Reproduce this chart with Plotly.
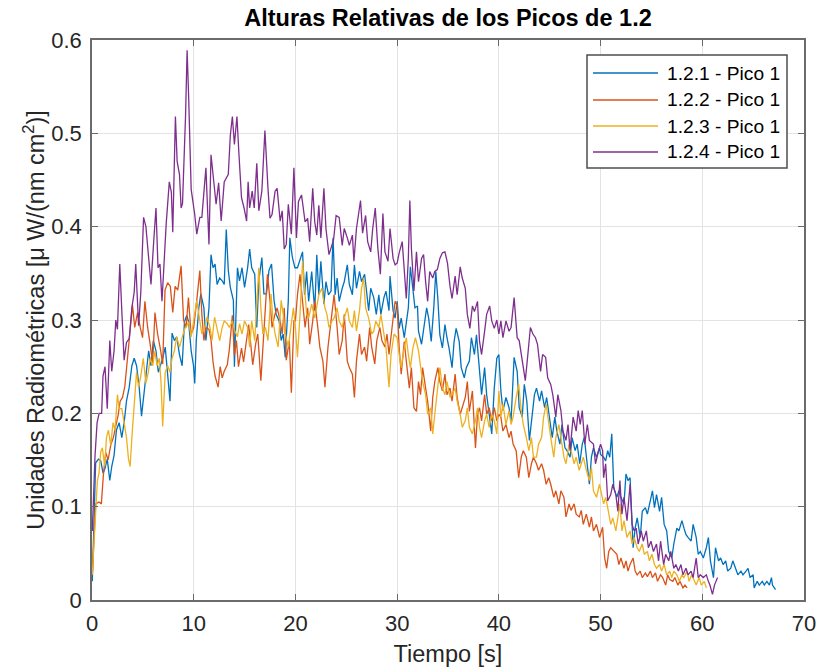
import plotly.graph_objects as go

# Serie 1.2.1 - Pico 1
t_121 = [0.03,0.16,0.36,0.63,0.86,1.09,1.28,1.5,1.75,1.94,2.17,2.4,2.67,2.93,3.16,3.39,3.66,3.92,4.15,4.38,
         4.64,4.87,5.1,5.3,5.57,5.8,6.03,6.29,6.52,6.72,6.95,7.2,7.44,7.67,7.87,8.1,8.33,8.6,8.86,9.09,
         9.32,9.5,9.75,9.98,
         10.1,10.25,10.5,10.7,11.0,11.2,11.5,11.7,11.9,12.1,12.3,12.55,12.8,13.0,13.2,13.4,13.6,13.9,14.0,14.3,
         14.5,14.75,15.0,15.3,15.5,15.7,16.0,16.2,16.4,16.7,16.9,17.15,17.4,17.65,17.9,18.1,18.4,18.6,18.8,19.0,
         19.3,19.45,19.7,19.95,
         20.2,20.45,20.7,20.9,21.1,21.3,21.6,21.9,22.1,22.3,22.5,22.8,23.0,23.25,23.5,23.7,23.9,24.1,24.3,24.6,
         24.8,25.1,25.3,25.6,25.8,26.0,26.3,26.5,26.8,26.96,27.2,27.4,27.7,27.95,28.2,28.4,28.7,28.9,29.2,29.3,
         29.6,29.8,
         30.0,30.2,30.4,30.7,30.9,31.1,31.3,31.55,31.75,32.0,32.1,32.4,32.6,32.9,33.1,33.35,33.6,33.8,34.0,34.2,
         34.45,34.7,34.9,35.1,35.4,35.6,35.8,36.1,36.3,36.6,36.8,37.1,37.3,37.6,37.8,38.1,38.3,38.6,38.8,39.05,
         39.3,39.55,39.8,
         40.0,40.2,40.4,40.7,41.0,41.2,41.5,41.8,42.0,42.3,42.5,42.75,43.0,43.3,43.5,43.7,44.0,44.2,44.5,44.7,
         45.0,45.25,45.5,45.7,46.0,46.2,46.5,46.7,47.0,47.2,47.5,47.7,47.95,48.2,48.4,48.7,48.9,49.1,49.3,49.6,
         49.9,
         50.0,50.3,50.5,50.7,50.9,51.1,51.3,51.6,51.8,52.0,52.3,52.5,52.7,52.9,53.2,53.4,53.6,53.9,54.1,54.4,
         54.6,54.9,55.1,55.3,55.5,55.8,56.0,56.25,56.5,56.7,57.0,57.2,57.5,57.7,58.0,58.2,58.4,58.6,58.9,59.1,
         59.4,59.6,59.8,60.1,60.4,60.6,60.8,61.1,61.3,61.6,61.8,62.05,62.3,62.5,62.8,63.0,63.3,63.5,63.8,64.0,
         64.3,64.5,64.7,65.0,65.1,65.4,65.6,65.9,66.1,66.35,66.6,66.8,66.9,67.2]
v_121 = [0.02,0.08,0.147,0.151,0.149,0.136,0.141,0.151,0.128,0.143,0.155,0.182,0.19,0.174,0.19,0.213,0.228,0.251,0.259,0.251,
         0.228,0.197,0.217,0.24,0.267,0.251,0.278,0.267,0.244,0.251,0.259,0.271,0.24,0.213,0.286,0.278,0.282,0.263,0.251,0.298,
         0.305,0.298,0.267,0.251,
         0.232,0.278,0.313,0.328,0.313,0.278,0.313,0.37,0.356,0.36,0.338,0.345,0.342,0.338,0.397,0.353,0.335,0.321,0.25,0.356,
         0.342,0.356,0.335,0.356,0.376,0.356,0.349,0.292,0.342,0.367,0.328,0.328,0.353,0.36,0.321,0.306,0.299,0.278,0.285,0.26,
         0.321,0.388,0.367,0.356,
         0.356,0.366,0.373,0.327,0.352,0.32,0.352,0.31,0.37,0.327,0.363,0.317,0.341,0.327,0.331,0.388,0.327,0.345,0.32,0.334,
         0.341,0.359,0.338,0.327,0.359,0.334,0.352,0.341,0.349,0.334,0.31,0.334,0.324,0.306,0.327,0.306,0.324,0.331,0.31,0.347,
         0.31,0.302,
         0.32,0.291,0.302,0.281,0.295,0.313,0.357,0.331,0.313,0.315,0.288,0.274,0.291,0.313,0.302,0.277,0.313,0.352,0.323,0.284,
         0.27,0.295,0.281,0.27,0.249,0.277,0.291,0.277,0.249,0.238,0.249,0.256,0.281,0.263,0.284,0.242,0.22,0.249,0.22,0.199,
         0.178,0.227,0.259,
         0.263,0.224,0.203,0.217,0.206,0.192,0.26,0.245,0.206,0.196,0.231,0.213,0.171,0.203,0.22,0.227,0.213,0.224,0.206,0.217,
         0.196,0.174,0.196,0.181,0.167,0.188,0.163,0.16,0.153,0.174,0.16,0.167,0.146,0.167,0.174,0.146,0.124,0.153,0.163,0.153,
         0.163,
         0.156,0.153,0.149,0.16,0.153,0.178,0.12,0.11,0.117,0.11,0.103,0.135,0.128,0.131,0.056,0.077,0.088,0.067,0.095,0.099,
         0.092,0.106,0.117,0.099,0.113,0.095,0.11,0.081,0.074,0.052,0.045,0.06,0.077,0.074,0.085,0.077,0.07,0.067,0.063,0.081,
         0.067,0.049,0.052,0.045,0.056,0.067,0.042,0.024,0.056,0.042,0.045,0.038,0.042,0.031,0.034,0.042,0.034,0.027,0.031,0.027,
         0.031,0.034,0.024,0.027,0.013,0.02,0.016,0.02,0.016,0.02,0.016,0.024,0.016,0.011]

# Serie 1.2.2 - Pico 1
t_122 = [0.03,0.36,0.69,0.92,1.12,1.35,1.58,1.84,2.1,2.34,2.57,2.77,3.0,3.23,3.49,3.72,3.98,4.2,4.48,4.74,
         4.97,5.2,5.47,5.73,5.96,6.19,6.45,6.72,6.95,7.18,7.44,7.7,7.94,8.17,8.43,8.76,9.0,9.25,9.48,9.74,
         10.0,
         10.3,10.6,10.8,11.0,11.2,11.5,11.7,11.9,12.1,12.4,12.6,12.8,13.0,13.3,13.5,13.8,14.0,14.2,14.4,14.7,
         14.9,15.2,15.4,15.6,15.8,16.1,16.3,16.6,16.8,17.05,17.25,17.5,17.7,17.98,18.2,18.5,18.7,18.9,19.1,19.4,
         19.6,19.85,
         20.0,20.2,20.45,20.7,20.95,21.2,21.4,21.7,21.9,22.2,22.4,22.7,22.9,23.2,23.4,23.6,23.8,24.1,24.3,24.6,
         24.8,25.1,25.3,25.6,25.8,26.0,26.3,26.5,26.8,27.0,27.3,27.5,27.8,28.0,28.3,28.5,28.8,29.0,29.2,29.5,
         29.8,
         30.0,30.2,30.4,30.7,30.9,31.2,31.4,31.65,31.9,32.1,32.3,32.5,32.8,33.0,33.3,33.5,33.7,34.0,34.2,34.45,
         34.7,34.9,35.2,35.4,35.7,35.9,36.2,36.4,36.7,36.9,37.1,37.4,37.7,37.9,38.1,38.3,38.6,38.8,39.05,39.3,
         39.55,39.8,
         40.0,40.2,40.4,40.7,41.0,41.2,41.4,41.7,41.95,42.2,42.4,42.7,42.95,43.2,43.4,43.7,43.9,44.2,44.4,44.65,
         44.9,45.1,45.4,45.6,45.9,46.1,46.4,46.6,46.9,47.1,47.4,47.6,47.9,48.1,48.3,48.6,48.9,49.1,49.3,49.6,
         49.9,
         50.2,50.4,50.6,50.8,51.0,51.3,51.6,51.8,52.0,52.3,52.5,52.7,52.9,53.2,53.4,53.6,53.9,54.1,54.4,54.6,
         54.9,55.1,55.4,55.6,55.9,56.1,56.4,56.6,56.8,57.1,57.3,57.6,57.8,58.1,58.3,58.5]
v_122 = [0.028,0.103,0.105,0.103,0.134,0.158,0.15,0.166,0.174,0.186,0.198,0.213,0.217,0.229,0.261,0.281,0.316,0.292,0.308,0.292,
         0.281,0.32,0.292,0.273,0.253,0.308,0.285,0.269,0.253,0.332,0.34,0.336,0.308,0.336,0.332,0.358,0.30,0.292,0.324,0.285,
         0.292,
         0.321,0.353,0.306,0.278,0.292,0.29,0.279,0.255,0.24,0.228,0.25,0.238,0.245,0.252,0.268,0.305,0.262,0.278,0.25,0.27,
         0.255,0.278,0.295,0.275,0.252,0.275,0.285,0.235,0.27,0.321,0.349,0.321,0.292,0.306,0.313,0.299,0.285,0.313,0.257,0.278,
         0.222,0.299,
         0.299,0.327,0.349,0.32,0.292,0.313,0.274,0.299,0.32,0.292,0.271,0.256,0.228,0.271,0.292,0.313,0.327,0.292,0.263,0.278,
         0.306,0.256,0.249,0.242,0.217,0.256,0.285,0.263,0.271,0.256,0.292,0.271,0.253,0.278,0.292,0.278,0.271,0.285,0.263,0.292,
         0.32,
         0.316,0.27,0.242,0.277,0.256,0.227,0.249,0.206,0.202,0.234,0.22,0.249,0.227,0.213,0.181,0.217,0.234,0.249,0.234,0.224,
         0.242,0.22,0.227,0.213,0.242,0.217,0.199,0.206,0.217,0.234,0.202,0.224,0.163,0.199,0.206,0.192,0.22,0.199,0.206,0.192,
         0.206,0.192,
         0.199,0.196,0.181,0.188,0.174,0.181,0.167,0.16,0.131,0.153,0.16,0.153,0.131,0.146,0.153,0.146,0.139,0.146,0.139,0.124,
         0.131,0.124,0.11,0.117,0.103,0.117,0.11,0.089,0.103,0.096,0.103,0.092,0.089,0.096,0.081,0.092,0.078,0.089,0.074,0.081,
         0.067,
         0.078,0.045,0.034,0.052,0.056,0.052,0.049,0.038,0.045,0.034,0.042,0.031,0.038,0.045,0.031,0.027,0.031,0.024,0.029,0.025,
         0.031,0.024,0.029,0.02,0.027,0.024,0.016,0.027,0.022,0.02,0.024,0.016,0.02,0.013,0.016,0.013]

# Serie 1.2.3 - Pico 1
t_123 = [0.03,0.2,0.36,0.53,0.69,0.86,1.02,1.25,1.42,1.61,1.84,2.07,2.27,2.5,2.67,2.93,3.16,3.39,3.59,3.75,
         3.92,4.15,4.38,4.58,4.8,5.04,5.3,5.53,5.73,5.96,6.19,6.39,6.62,6.79,6.95,7.2,7.44,7.67,7.87,8.1,
         8.33,8.6,8.86,9.09,9.32,9.5,9.75,9.98,
         10.3,10.6,10.8,11.1,11.3,11.6,11.8,12.05,12.3,12.55,12.8,13.0,13.3,13.5,13.8,14.0,14.3,14.5,14.75,15.0,
         15.3,15.5,15.7,16.0,16.3,16.4,16.6,16.8,17.05,17.3,17.6,17.8,18.0,18.3,18.6,18.8,19.0,19.3,19.55,19.8,
         20.0,20.2,20.45,20.7,20.9,21.1,21.3,21.6,21.9,22.1,22.3,22.6,22.9,23.1,23.3,23.6,23.8,24.1,24.3,24.6,
         24.8,25.1,25.3,25.6,25.8,26.0,26.3,26.5,26.7,26.9,27.2,27.5,27.7,27.9,28.2,28.4,28.7,28.9,29.2,29.4,
         29.7,
         30.0,30.2,30.4,30.7,30.9,31.1,31.3,31.55,31.8,32.1,32.3,32.5,32.8,33.0,33.3,33.5,33.7,34.0,34.2,34.45,
         34.7,34.9,35.2,35.4,35.7,35.9,36.2,36.4,36.7,36.9,37.1,37.4,37.7,37.9,38.1,38.3,38.6,38.8,39.05,39.3,
         39.55,39.8,
         40.0,40.2,40.4,40.7,41.0,41.2,41.4,41.7,41.95,42.2,42.4,42.7,42.95,43.2,43.4,43.7,43.9,44.2,44.4,44.65,
         44.9,45.1,45.4,45.6,45.9,46.1,46.4,46.6,46.9,47.1,47.4,47.6,47.9,48.1,48.3,48.6,48.9,49.1,49.3,49.6,
         49.9,
         50.3,50.5,50.7,51.0,51.2,51.5,51.7,51.9,52.1,52.3,52.6,52.9,53.1,53.3,53.6,53.8,54.1,54.3,54.6,54.8,
         55.05,55.3,55.5,55.8,56.0,56.25,56.5,56.8,57.0,57.2,57.5,57.75,58.0,58.2,58.5,58.7,58.96,59.2,59.4,59.7,
         59.9,60.2,60.4]
v_123 = [0.027,0.066,0.10,0.128,0.136,0.159,0.163,0.143,0.174,0.182,0.166,0.19,0.182,0.22,0.205,0.205,0.19,0.174,0.151,0.143,
         0.174,0.209,0.244,0.228,0.24,0.259,0.232,0.244,0.259,0.251,0.267,0.251,0.259,0.232,0.186,0.244,0.251,0.244,0.259,0.267,
         0.282,0.271,0.282,0.29,0.294,0.298,0.282,0.298,
         0.321,0.299,0.285,0.292,0.303,0.292,0.278,0.303,0.292,0.278,0.292,0.299,0.296,0.292,0.299,0.289,0.282,0.296,0.285,0.299,
         0.292,0.271,0.299,0.278,0.335,0.356,0.313,0.285,0.292,0.278,0.328,0.299,0.285,0.271,0.321,0.306,0.285,0.271,0.292,0.313,
         0.292,0.26,0.306,0.363,0.334,0.306,0.302,0.317,0.302,0.313,0.327,0.334,0.313,0.306,0.292,0.299,0.302,0.313,0.299,0.292,
         0.302,0.313,0.299,0.292,0.31,0.288,0.31,0.334,0.345,0.313,0.302,0.285,0.288,0.299,0.292,0.306,0.285,0.271,0.228,0.263,
         0.285,
         0.281,0.263,0.249,0.27,0.281,0.263,0.249,0.27,0.281,0.267,0.249,0.234,0.22,0.199,0.206,0.178,0.199,0.234,0.249,0.227,
         0.22,0.234,0.217,0.22,0.227,0.213,0.199,0.185,0.192,0.206,0.185,0.178,0.192,0.206,0.185,0.174,0.192,0.199,0.185,0.199,
         0.192,0.178,
         0.224,0.196,0.21,0.188,0.203,0.188,0.196,0.217,0.231,0.203,0.188,0.174,0.16,0.174,0.153,0.153,0.167,0.174,0.196,0.21,
         0.188,0.174,0.153,0.174,0.188,0.174,0.153,0.146,0.167,0.16,0.146,0.153,0.139,0.146,0.153,0.139,0.128,0.142,0.117,0.11,
         0.124,
         0.103,0.11,0.099,0.081,0.088,0.074,0.088,0.103,0.074,0.085,0.067,0.074,0.06,0.067,0.056,0.052,0.06,0.049,0.052,0.042,
         0.049,0.038,0.034,0.038,0.031,0.038,0.027,0.031,0.024,0.031,0.027,0.02,0.027,0.024,0.031,0.02,0.027,0.02,0.016,0.024,
         0.016,0.02,0.013]

# Serie 1.2.4 - Pico 1
t_124 = [0.03,0.3,0.5,0.7,0.95,1.08,1.28,1.5,1.75,1.94,2.17,2.34,2.5,2.73,2.93,3.16,3.39,3.66,3.92,4.15,
         4.3,4.58,4.8,5.07,5.3,5.57,5.8,6.06,6.29,6.49,6.68,6.88,7.1,7.3,7.6,7.8,7.94,8.2,8.37,8.6,
         8.76,8.9,9.2,9.35,9.5,9.75,
         10.1,10.3,10.6,10.8,11.2,11.5,11.7,12.0,12.2,12.45,12.7,13.0,13.4,13.6,13.8,14.0,14.25,14.45,14.7,14.95,
         15.2,15.35,15.5,15.75,15.95,16.2,16.4,16.7,17.0,17.3,17.5,17.7,18.0,18.2,18.5,18.7,18.9,19.1,19.3,19.6,
         19.85,
         20.1,20.3,20.6,20.95,21.2,21.4,21.7,21.9,22.1,22.3,22.5,22.8,23.0,23.3,23.5,23.75,24.0,24.3,24.6,24.8,
         25.1,25.3,25.6,25.75,26.0,26.4,26.6,26.9,27.1,27.4,27.6,27.85,28.1,28.35,28.6,28.8,29.1,29.3,29.6,29.8,
         30.0,30.2,30.5,30.7,30.9,31.1,31.25,31.4,31.65,31.9,32.1,32.4,32.6,32.8,33.0,33.2,33.5,33.7,33.95,34.2,
         34.45,34.7,34.95,35.2,35.4,35.7,35.9,36.2,36.4,36.7,36.9,37.15,37.4,37.6,37.9,38.1,38.3,38.6,38.8,39.1,
         39.3,39.55,39.8,
         40.0,40.2,40.4,40.7,41.0,41.2,41.5,41.8,42.0,42.3,42.6,42.85,43.1,43.35,43.6,43.8,44.1,44.3,44.6,44.8,
         45.1,45.3,45.6,45.8,46.1,46.3,46.6,46.8,47.0,47.3,47.6,47.8,48.0,48.2,48.45,48.7,48.9,49.3,49.5,49.8,
         50.0,50.2,50.3,50.5,50.7,51.0,51.2,51.5,51.7,51.9,52.1,52.3,52.6,52.9,53.1,53.3,53.5,53.7,54.0,54.2,
         54.5,54.7,54.95,55.2,55.5,55.7,55.9,56.2,56.4,56.7,56.9,57.2,57.4,57.65,57.9,58.1,58.4,58.6,58.9,59.1,
         59.4,59.6,59.8,60.1,60.4,60.6,60.75,61.0,61.2,61.5]
v_124 = [0.074,0.155,0.19,0.20,0.20,0.24,0.25,0.205,0.278,0.245,0.267,0.30,0.29,0.36,0.31,0.257,0.276,0.28,0.313,0.33,
         0.36,0.294,0.33,0.41,0.40,0.367,0.338,0.383,0.42,0.356,0.36,0.32,0.363,0.404,0.448,0.437,0.394,0.518,0.47,0.456,
         0.42,0.425,0.52,0.589,0.54,0.44,
         0.413,0.392,0.41,0.41,0.463,0.381,0.477,0.445,0.424,0.447,0.406,0.448,0.456,0.498,0.518,0.488,0.518,0.477,0.431,0.42,
         0.406,0.448,0.42,0.438,0.42,0.468,0.417,0.438,0.503,0.441,0.409,0.413,0.438,0.441,0.406,0.417,0.376,0.381,0.424,0.392,
         0.463,
         0.388,0.427,0.434,0.405,0.409,0.384,0.441,0.405,0.391,0.423,0.388,0.441,0.398,0.37,0.377,0.386,0.412,0.41,0.38,0.398,
         0.388,0.38,0.391,0.363,0.398,0.428,0.393,0.412,0.384,0.373,0.398,0.42,0.377,0.349,0.414,0.373,0.363,0.398,0.366,0.359,
         0.361,0.372,0.384,0.348,0.323,0.366,0.428,0.377,0.331,0.373,0.341,0.366,0.37,0.341,0.32,0.352,0.345,0.352,0.354,0.366,
         0.372,0.373,0.361,0.336,0.323,0.347,0.327,0.357,0.345,0.334,0.306,0.291,0.315,0.309,0.32,0.277,0.263,0.288,0.306,0.315,
         0.299,0.291,0.30,
         0.285,0.299,0.281,0.299,0.288,0.292,0.324,0.281,0.278,0.256,0.235,0.263,0.292,0.285,0.281,0.274,0.245,0.263,0.26,0.238,
         0.231,0.22,0.196,0.22,0.203,0.181,0.171,0.188,0.16,0.196,0.181,0.203,0.188,0.203,0.167,0.188,0.171,0.167,0.146,0.16,
         0.167,0.16,0.131,0.146,0.106,0.113,0.124,0.113,0.095,0.128,0.092,0.11,0.085,0.124,0.081,0.074,0.077,0.06,0.074,0.063,
         0.074,0.056,0.063,0.052,0.06,0.042,0.063,0.038,0.049,0.042,0.052,0.034,0.038,0.031,0.038,0.027,0.034,0.027,0.031,0.024,
         0.045,0.024,0.027,0.024,0.027,0.02,0.016,0.006,0.016,0.024]

series_names = ["1.2.1 - Pico 1", "1.2.2 - Pico 1", "1.2.3 - Pico 1", "1.2.4 - Pico 1"]
series_colors = ["#0072BD", "#D95319", "#EDB120", "#7E2F8E"]
series_t = [t_121, t_122, t_123, t_124]
series_v = [v_121, v_122, v_123, v_124]

FONT = "Liberation Sans, Arial, Helvetica, sans-serif"
AXIS_COLOR = "#6b6b6b"
TEXT_COLOR = "#262626"

W, H = 822, 670
ML, MR, MT, MB = 92, 18, 40, 70
PW, PH = W - ML - MR, H - MT - MB


def px_to_paper(px, py):
    """Pixel position on the page -> paper coordinates of the plot area."""
    return (px - ML) / PW, (H - MB - py) / PH


fig = go.Figure()
for name, color, tt, vv in zip(series_names, series_colors, series_t, series_v):
    assert len(tt) == len(vv), (name, len(tt), len(vv))
    fig.add_trace(go.Scatter(x=tt, y=vv, mode="lines", name=name, showlegend=False,
                             line=dict(color=color, width=1.3)))

axis_common = dict(
    showline=True, linecolor=AXIS_COLOR, linewidth=1.5, mirror="ticks",
    ticks="inside", ticklen=6, tickwidth=1, tickcolor=AXIS_COLOR,
    showgrid=True, gridcolor="#e3e3e3", gridwidth=1, zeroline=False,
    automargin=False,
    tickfont=dict(family=FONT, size=22, color=TEXT_COLOR),
)

# Boxed legend in the upper right corner (long line samples, MATLAB style)
leg_left, leg_right, leg_top, leg_bottom = 587, 787, 55, 168
row_y = [73, 100, 126, 152]
sample_x0, sample_x1, text_x = 593, 658, 665

shapes = []
annotations = []
x0p, y0p = px_to_paper(leg_left, leg_bottom)
x1p, y1p = px_to_paper(leg_right, leg_top)
shapes.append(dict(type="rect", xref="paper", yref="paper", x0=x0p, y0=y0p, x1=x1p, y1=y1p,
                   line=dict(color="#4d4d4d", width=1.5), fillcolor="white", layer="above"))
for name, color, ry in zip(series_names, series_colors, row_y):
    lx0, ly = px_to_paper(sample_x0, ry)
    lx1, _ = px_to_paper(sample_x1, ry)
    shapes.append(dict(type="line", xref="paper", yref="paper", x0=lx0, y0=ly, x1=lx1, y1=ly,
                       line=dict(color=color, width=1.3), layer="above"))
    tx, _ = px_to_paper(text_x, ry)
    annotations.append(dict(text=name, xref="paper", yref="paper", x=tx, y=ly,
                            xanchor="left", yanchor="middle", showarrow=False,
                            font=dict(family=FONT, size=19.2, color="#000000")))

fig.update_layout(
    width=W, height=H,
    margin=dict(l=ML, r=MR, t=MT, b=MB),
    paper_bgcolor="white", plot_bgcolor="white",
    font=dict(family=FONT, color=TEXT_COLOR),
    title=dict(text="<b>Alturas Relativas de los Picos de 1.2</b>",
               font=dict(family=FONT, size=23.5, color="#000000"),
               x=0.5, xref="paper", xanchor="center",
               y=1 - 18 / H, yref="container", yanchor="middle"),
    xaxis=dict(range=[0, 70], dtick=10, tick0=0, ticklabelstandoff=3,
               title=dict(text="Tiempo [s]", font=dict(family=FONT, size=23.5, color=TEXT_COLOR),
                          standoff=10),
               **axis_common),
    yaxis=dict(range=[0, 0.6], dtick=0.1, tick0=0, ticklabelstandoff=4,
               title=dict(text="Unidades Radiométricas [μ W/(nm cm<sup>2</sup>)]",
                          font=dict(family=FONT, size=23.5, color=TEXT_COLOR), standoff=0),
               **axis_common),
    shapes=shapes,
    annotations=annotations,
    showlegend=False,
)

fig.write_html("out.html")
